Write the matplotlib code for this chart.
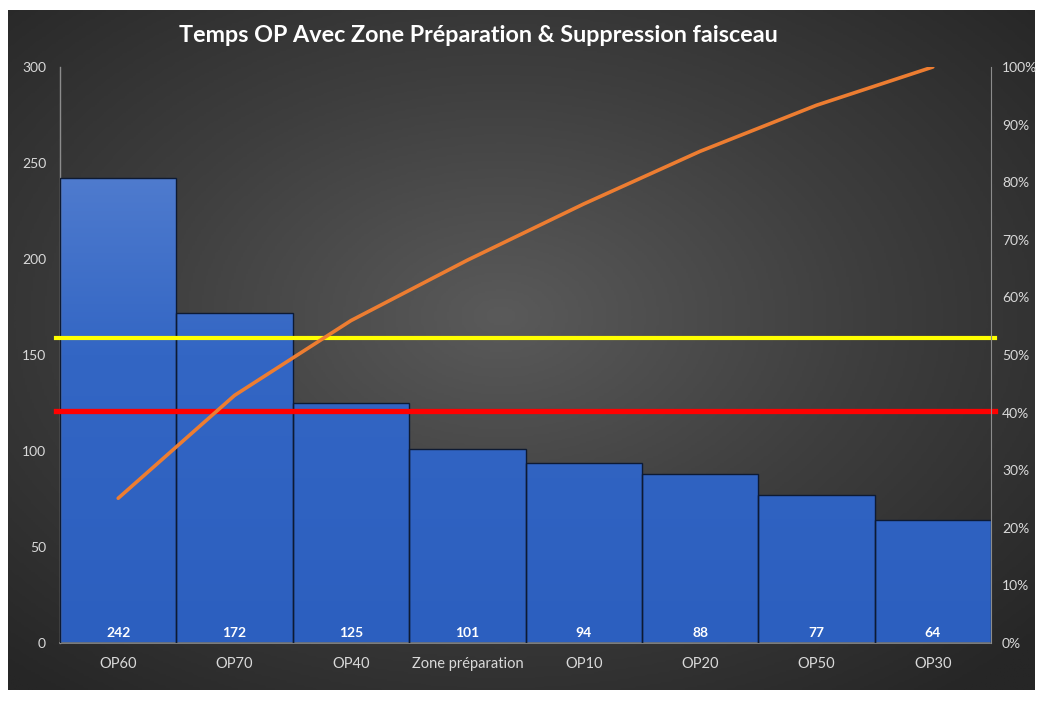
import matplotlib
matplotlib.use('Agg')
import matplotlib.pyplot as plt
import numpy as np
from matplotlib.colors import LinearSegmentedColormap

categories = ['OP60', 'OP70', 'OP40', 'Zone préparation', 'OP10', 'OP20', 'OP50', 'OP30']
temps = [242, 172, 125, 101, 94, 88, 77, 64]
yellow_level = 159
red_level = 121
title = 'Temps OP Avec Zone Préparation & Suppression faisceau'

plt.rcParams['font.family'] = ['Lato', 'DejaVu Sans']

cumul = np.cumsum(temps) / np.sum(temps) * 100

fig = plt.figure(figsize=(10.43, 7.02), dpi=100)
fig.patch.set_facecolor('white')

# dark radial background
bg = fig.add_axes([8/1043, 1-690/702, 1027/1043, 680/702])
bg.set_axis_off()
yy, xx = np.mgrid[0:1:300j, 0:1:450j]
r = np.sqrt(((xx - 0.48) / 0.75) ** 2 + ((yy - 0.45) / 0.75) ** 2)
bg_cmap = LinearSegmentedColormap.from_list('bg', ['#5a5a5a', '#3e3e3e', '#262626'])
bg.imshow(r, cmap=bg_cmap, extent=[0, 1, 0, 1], aspect='auto', vmin=0, vmax=0.95)
bg.set_xlim(0, 1)
bg.set_ylim(0, 1)

ax = fig.add_axes([60/1043, 1-643/702, 931/1043, 576/702])
ax.set_facecolor('none')
x = np.arange(len(categories))
bars = ax.bar(x, temps, width=1.0, color='none', edgecolor='#0d1a33', linewidth=1.0, zorder=3)

# vertical gradient fill clipped to each bar
bar_cmap = LinearSegmentedColormap.from_list('bar', ['#2c5fbf', '#3366c4', '#6088d4'])
grad = np.linspace(0, 1, 256).reshape(-1, 1)
for b in bars:
    im = ax.imshow(grad, cmap=bar_cmap, extent=[-0.5, len(categories) - 0.5, 0, 300],
                   origin='lower', aspect='auto', zorder=2, vmin=0, vmax=1)
    im.set_clip_path(b)
    b.set_facecolor('none')

for xi, v in zip(x, temps):
    ax.text(xi, 2, str(v), ha='center', va='bottom', color='white', fontsize=10, fontweight='bold', zorder=5)

ax.axhline(yellow_level, color='#ffff00', lw=3, zorder=6, xmin=-0.004, xmax=1.004, clip_on=False)
ax.axhline(red_level, color='#ff0000', lw=3.8, zorder=6, xmin=-0.004, xmax=1.004, clip_on=False)

ax.set_xlim(-0.5, len(categories) - 0.5)
ax.set_ylim(0, 300)
ax.set_yticks(np.arange(0, 301, 50))
ax.set_xticks(x)
ax.set_xticklabels(categories)
ax.tick_params(axis='x', length=0, pad=10, colors='#d9d9d9', labelsize=10.5)
ax.tick_params(axis='y', length=0, pad=10, colors='#d9d9d9', labelsize=10)
for s in ['top', 'right']:
    ax.spines[s].set_visible(False)
ax.spines['left'].set_color('#8c8c8c')
ax.spines['bottom'].set_color('#8c8c8c')
ax.spines['left'].set_linewidth(1)
ax.spines['bottom'].set_linewidth(1.2)

ax2 = ax.twinx()
ax2.plot(x, cumul, color='#ed7d31', lw=2.6, zorder=7, solid_capstyle='round')
ax2.set_ylim(0, 100)
ax2.set_yticks(np.arange(0, 101, 10))
ax2.set_yticklabels([f'{v}%' for v in range(0, 101, 10)])
ax2.tick_params(axis='y', length=0, pad=8, colors='#d9d9d9', labelsize=10)
for s in ['top', 'left', 'bottom']:
    ax2.spines[s].set_visible(False)
ax2.spines['right'].set_color('#8c8c8c')

fig.text(478/1043, 1-35/702, title, ha='center', va='center', color='white',
         fontsize=16.8, fontweight='bold')

fig.savefig('out.png', dpi=100)
